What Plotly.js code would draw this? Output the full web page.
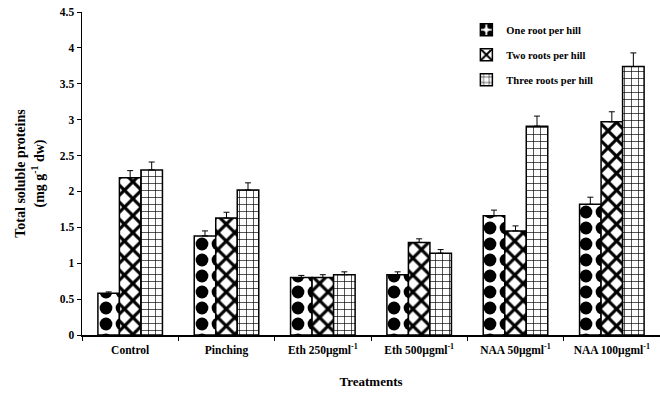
<!DOCTYPE html>
<html><head><meta charset="utf-8">
<script src="https://cdn.plot.ly/plotly-3.0.1.min.js"></script>
<style>body{margin:0;background:#fff}#c{width:660px;height:395px}</style>
</head><body><div id="c"></div>
<script>
var categories = ["Control", "Pinching", "Eth 250µgml<sup>-1</sup>", "Eth 500µgml<sup>-1</sup>", "NAA 50µgml<sup>-1</sup>", "NAA 100µgml<sup>-1</sup>"];
var seriesNames = ["One root per hill", "Two roots per hill", "Three roots per hill"];
var oneRoot = [0.58, 1.38, 0.80, 0.84, 1.66, 1.82];
var twoRoots = [2.19, 1.63, 0.80, 1.29, 1.45, 2.97];
var threeRoots = [2.30, 2.02, 0.84, 1.14, 2.91, 3.74];
var oneErr = [0.02, 0.07, 0.03, 0.04, 0.08, 0.10];
var twoErr = [0.10, 0.08, 0.04, 0.05, 0.07, 0.14];
var threeErr = [0.11, 0.10, 0.04, 0.05, 0.14, 0.19];
var yTicks = [0, 0.5, 1, 1.5, 2, 2.5, 3, 3.5, 4, 4.5];

var font = {family: "Liberation Serif, Times New Roman, serif", color: "#000"};
function mk(name, vals, errs, shape, size, solidity, grp) {
  return {
    type: "bar", name: "<b>" + name + "</b>", x: categories, y: vals, legendgroup: grp,
    marker: {color: "#fff", line: {color: "#000", width: 1.5},
      pattern: {shape: shape, fgcolor: "#000", bgcolor: "#fff", fgopacity: 1, size: size, solidity: solidity, fillmode: "replace"}},
    error_y: {type: "data", array: errs, arrayminus: errs.map(function(){return 0;}), symmetric: false, color: "#000", thickness: 1, width: 3}
  };
}
var data = [
  mk(seriesNames[0], oneRoot, oneErr, ".", 16, 0.5, "a"),
  mk(seriesNames[1], twoRoots, twoErr, "x", 12, 0.45, "b"),
  mk(seriesNames[2], threeRoots, threeErr, "+", 7, 0.18, "c")
];
var layout = {
  width: 660, height: 395,
  margin: {l: 82, r: 0, t: 12, b: 60},
  paper_bgcolor: "#fff", plot_bgcolor: "#fff",
  barmode: "group", bargap: 0.33, bargroupgap: 0,
  font: font,
  xaxis: {type: "category", range: [-0.5, 5.5], showline: true, linecolor: "#000", linewidth: 1.5,
    ticks: "outside", tickson: "boundaries", ticklen: 4, tickcolor: "#000", ticklabelstandoff: 4,
    tickfont: {family: font.family, size: 11.5, color: "#000", weight: "bold"},
    tickangle: 0,
    title: {text: "<b>Treatments</b>", font: {family: font.family, size: 13, color: "#000"}, standoff: 20}},
  yaxis: {range: [0, 4.5], tickvals: yTicks, ticktext: yTicks.map(String), showline: true, linecolor: "#000", linewidth: 1.5,
    ticks: "outside", ticklen: 4, tickcolor: "#000", showgrid: false, zeroline: false,
    tickfont: {family: font.family, size: 11.5, color: "#000", weight: "bold"},
    title: {text: "<b>Total soluble proteins<br>(mg g<sup>-1</sup> dw)</b>", font: {family: font.family, size: 14, color: "#000"}, standoff: 12}},
  legend: {x: 0.665, y: 0.99, xanchor: "left", yanchor: "top", traceorder: "grouped", tracegroupgap: 6,
    bgcolor: "rgba(0,0,0,0)", font: {family: font.family, size: 10.5, color: "#000"}},
  showlegend: true
};
Plotly.newPlot("c", data, layout, {displayModeBar: false, staticPlot: true});
</script></body></html>
